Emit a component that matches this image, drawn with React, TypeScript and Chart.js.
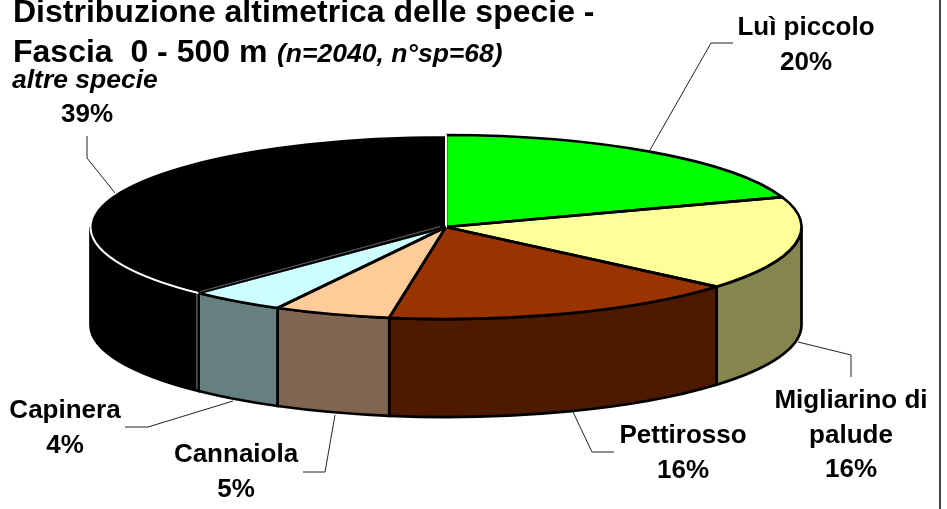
import { useEffect, useRef } from "react";
import { Chart, registerables } from "chart.js";

Chart.register(...registerables);

const species = ["Luì piccolo", "Migliarino di palude", "Pettirosso", "Cannaiola", "Capinera", "altre specie"];
const sliceShares = [19.7, 16.5, 16.3, 5.3, 4.4, 37.7];
const percentLabels = ["20%", "16%", "16%", "5%", "4%", "39%"];
const topColors = ["#00FF00", "#FFFF99", "#993300", "#FFCC99", "#CCFFFF", "#000000"];
const sideColors = ["#008000", "#85854F", "#4D1A00", "#806650", "#668080", "#000000"];
const titleLine1 = "Distribuzione altimetrica delle specie -";
const titleLine2 = "Fascia  0 - 500 m";
const titleNote = "(n=2040, n°sp=68)";

const RX = 355.5;
const RY = 92;
const DEPTH = 98;
const FONT = '"Liberation Sans", Arial, sans-serif';

const leaders: number[][][] = [
  [[650, 150], [711, 43], [733, 43]],
  [[798, 342], [851, 355], [851, 377]],
  [[573, 412], [592, 452], [614, 452]],
  [[335, 415], [325, 472], [303, 472]],
  [[233, 401], [148, 427], [125, 427]],
  [[115, 193], [87, 158], [87, 136]],
];
const labelLines: [string[], number, number][] = [
  [["Luì piccolo", "20%"], 806, 35],
  [["Migliarino di", "palude", "16%"], 851, 408],
  [["Pettirosso", "16%"], 683, 443],
  [["Cannaiola", "5%"], 236, 462],
  [["Capinera", "4%"], 65, 418],
];

const pie3d = {
  id: "pie3d",
  beforeDatasetsDraw(chart: any) {
    const ctx = chart.ctx;
    const arcs = chart.getDatasetMeta(0).data;
    const cx = arcs[0].x;
    const cy = arcs[0].y;
    ctx.save();
    arcs.forEach((a: any, i: number) => {
      const norm = (v: number) => (v < -Math.PI / 2 ? v + 2 * Math.PI : v);
      const s = Math.max(norm(a.startAngle), 0);
      const e = Math.min(norm(a.endAngle), Math.PI);
      if (e <= s) return;
      ctx.beginPath();
      ctx.ellipse(cx, cy, RX, RY, 0, s, e);
      ctx.ellipse(cx, cy + DEPTH, RX, RY, 0, e, s, true);
      ctx.closePath();
      ctx.fillStyle = sideColors[i];
      ctx.fill();
      ctx.strokeStyle = "#000";
      ctx.lineWidth = 2.7;
      ctx.stroke();
    });
    const ang = arcs[5].startAngle;
    const px = cx + RX * Math.cos(ang);
    const py = cy + RY * Math.sin(ang);
    ctx.strokeStyle = "#888";
    ctx.lineWidth = 1;
    ctx.beginPath();
    ctx.moveTo(px - 1.5, py);
    ctx.lineTo(px - 1.5, py + DEPTH - 2);
    ctx.stroke();
    ctx.restore();
    ctx.save();
    ctx.translate(cx, cy);
    ctx.scale(1, RY / RX);
    ctx.translate(-cx, -cy);
  },
  afterDatasetsDraw(chart: any) {
    const ctx = chart.ctx;
    ctx.restore();
    const arcs = chart.getDatasetMeta(0).data;
    const cx = arcs[0].x;
    const cy = arcs[0].y;
    const outline = (a: any) => {
      ctx.beginPath();
      ctx.moveTo(cx, cy);
      ctx.ellipse(cx, cy, RX, RY, 0, a.startAngle, a.endAngle);
      ctx.closePath();
      ctx.stroke();
    };
    ctx.save();
    ctx.lineJoin = "round";
    ctx.strokeStyle = "#000";
    ctx.lineWidth = 2.7;
    arcs.slice(0, 5).forEach(outline);
    ctx.strokeStyle = "#fff";
    ctx.lineWidth = 2;
    outline(arcs[5]);
    const ang = arcs[5].startAngle;
    const px = cx + RX * Math.cos(ang);
    const py = cy + RY * Math.sin(ang);
    ctx.strokeStyle = "#000";
    ctx.lineWidth = 2.7;
    ctx.beginPath();
    ctx.moveTo(cx, cy);
    ctx.lineTo(px, py);
    ctx.stroke();
    ctx.strokeStyle = "#777";
    ctx.lineWidth = 0.8;
    ctx.beginPath();
    ctx.moveTo(cx - 6, cy - 0.5);
    ctx.lineTo(px + 2, py - 1.5);
    ctx.stroke();
    ctx.restore();
  },
  afterDraw(chart: any) {
    const ctx = chart.ctx;
    ctx.save();
    ctx.strokeStyle = "#222";
    ctx.lineWidth = 1;
    leaders.forEach((pts) => {
      ctx.beginPath();
      pts.forEach(([x, y], i) => (i ? ctx.lineTo(x, y) : ctx.moveTo(x, y)));
      ctx.stroke();
    });
    ctx.fillStyle = "#000";
    ctx.textBaseline = "alphabetic";
    ctx.textAlign = "left";
    ctx.font = `bold 32px ${FONT}`;
    ctx.fillText(titleLine1, 13, 22);
    ctx.fillText(titleLine2, 13, 62);
    ctx.font = `italic bold 26.5px ${FONT}`;
    ctx.fillText(titleNote, 277, 62);
    ctx.fillText(species[5], 12, 88);
    ctx.textAlign = "center";
    ctx.font = `bold 26px ${FONT}`;
    ctx.fillText(percentLabels[5], 87, 122);
    labelLines.forEach(([lines, x, y]) => {
      lines.forEach((t, i) => ctx.fillText(t, x, y + i * 34.5));
    });
    ctx.strokeStyle = "#444";
    ctx.lineWidth = 2;
    ctx.beginPath();
    ctx.moveTo(940, 0);
    ctx.lineTo(940, 509);
    ctx.stroke();
    ctx.restore();
  },
};

export default function App() {
  const ref = useRef<HTMLCanvasElement>(null);
  useEffect(() => {
    document.body.style.margin = "0";
    const chart = new Chart(ref.current!, {
      type: "pie",
      data: {
        labels: species,
        datasets: [
          {
            data: sliceShares,
            backgroundColor: topColors,
            borderWidth: 0,
            radius: RX,
            clip: false,
          } as any,
        ],
      },
      options: {
        responsive: false,
        animation: false,
        layout: { padding: { right: 55, bottom: 55 } },
        plugins: { legend: { display: false }, tooltip: { enabled: false }, title: { display: false } },
      },
      plugins: [pie3d],
    });
    return () => chart.destroy();
  }, []);
  return <canvas ref={ref} width={947} height={509} style={{ display: "block", background: "#fff" }} />;
}
